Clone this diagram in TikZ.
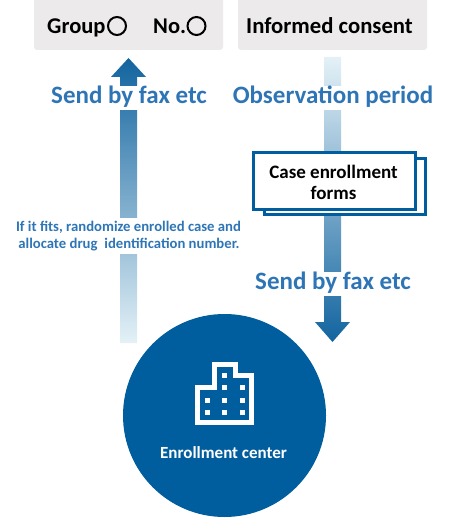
\documentclass[tikz,border=0pt]{standalone}
\usepackage{fontspec}
\setmainfont{Carlito}[BoldFont={Carlito Bold}]
\usetikzlibrary{calc}
\definecolor{hdrgray}{HTML}{ECEAEB}
\definecolor{deepblue}{HTML}{005E9E}
\definecolor{txtblue}{HTML}{2E75B6}
\definecolor{arrowdark}{HTML}{12649F}
\definecolor{arrowlight}{HTML}{E4F1F7}
\newcommand{\fs}[1]{\fontsize{#1}{#1}\selectfont\bfseries}
\tikzset{
  hdrbox/.style={fill=hdrgray,rounded corners=3pt,draw=none},
  lbl/.style={inner sep=0pt,anchor=base,align=center},
  bluelbl/.style={lbl,text=txtblue,font=\fs{25}},
  smalllbl/.style={lbl,text=txtblue,font=\fs{14.7}},
  formbox/.style={draw=deepblue,line width=2.2pt,fill=white},
  gapband/.style={fill=white,draw=none},
  win/.style={fill=white,draw=none,minimum size=5pt,inner sep=0pt},
  uparrow/.style={top color=arrowdark,bottom color=arrowlight,draw=none},
  downarrow/.style={top color=arrowlight,bottom color=arrowdark,draw=none},
}
\begin{document}
\begin{tikzpicture}[x=1pt,y=-1pt]
\useasboundingbox (0,0) rectangle (461,518);
% header boxes
\fill[hdrbox] (34,-4) rectangle (223,50);
\fill[hdrbox] (238,-4) rectangle (427,50);
\node[lbl,font=\fs{22.5},anchor=base west] (group) at (47,34) {Group};
\node[lbl,font=\fs{22.5},anchor=base west] (no) at (153,34) {No.};
\draw[black,line width=2pt] (117,26) circle (9);
\draw[black,line width=2pt] (196.5,26) circle (9);
\node[lbl,font=\fs{22.7}] (consent) at (329.5,34) {Informed consent};
% centre circle
\node[circle,fill=deepblue,minimum size=203pt,inner sep=0pt] (center) at (224.5,415.5) {};
% arrow end points
\coordinate (ltail) at (128.5,343);
\coordinate (ltip) at (128.5,58);
\coordinate (rtail) at (332.5,57);
\coordinate (rtip) at (332.5,342);
% up arrow
\path[uparrow] ($(ltail)+(-8.5,0)$) -- ($(ltip)+(-8.5,19)$) -- ($(ltip)+(-17.5,19)$) -- (ltip)
  -- ($(ltip)+(17.5,19)$) -- ($(ltip)+(8.5,19)$) -- ($(ltail)+(8.5,0)$) -- cycle;
% down arrow
\path[downarrow] ($(rtail)+(-8.5,0)$) -- ($(rtip)+(-8.5,-20)$) -- ($(rtip)+(-17.5,-20)$) -- (rtip)
  -- ($(rtip)+(17.5,-20)$) -- ($(rtip)+(8.5,-20)$) -- ($(rtail)+(8.5,0)$) -- cycle;
% gaps behind the labels
\fill[gapband] (118,86) rectangle (139,110);
\fill[gapband] (118,218) rectangle (139,254);
\fill[gapband] (322,86) rectangle (343,110);
\fill[gapband] (322,272) rectangle (343,296);
% labels
\node[bluelbl] (send1) at (129,104) {Send by fax etc};
\node[bluelbl] (obs) at (333,104) {Observation period};
\node[bluelbl] (send2) at (333,289) {Send by fax etc};
\node[smalllbl] (fit1) at (128.5,231) {If it fits, randomize enrolled case and};
\node[smalllbl] (fit2) at (129,248) {allocate drug\hspace{3.5pt} identification number.};
% forms
\draw[formbox] (264.5,158.5) rectangle (425.5,214.5);
\draw[formbox] (253.5,152.5) rectangle (415.5,209.5);
\node[lbl,font=\fs{19}] (form1) at (333.5,178.5) {Case enrollment};
\node[lbl,font=\fs{19}] (form2) at (333.5,199.5) {forms};
% building icon
\draw[white,line width=5pt,miter limit=10] (197.5,422.5) -- (197.5,387.5) -- (214.5,387.5) -- (214.5,364.5)
  -- (235,364.5) -- (235,375.5) -- (251.8,375.5) -- (251.8,422.5) -- cycle;
\foreach \c/\r in {224.7/375, 224.7/387.7, 242/387.7,
  207.7/400, 224.7/400, 242/400, 207.7/412.7, 224.7/412.7, 242/412.7}
  \node[win] at (\c,\r) {};
\node[lbl,font=\fs{17},text=white] (centerlabel) at (223.5,458) {Enrollment center};
\end{tikzpicture}
\end{document}
